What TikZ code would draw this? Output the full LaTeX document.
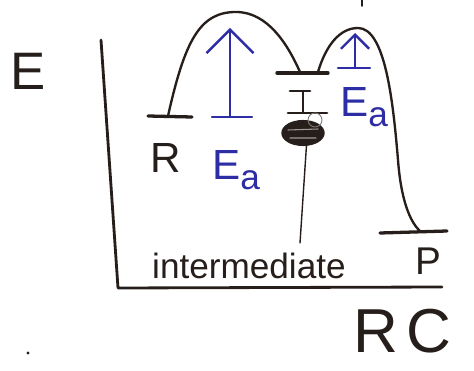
\documentclass[tikz,border=0pt]{standalone}
\usepackage{fontspec}
\setmainfont{Liberation Sans}
\usetikzlibrary{arrows.meta,shapes.geometric}
\definecolor{ink}{RGB}{38,30,26}
\definecolor{pen}{RGB}{45,45,165}
\newcommand{\Ea}{E\raisebox{-0.22em}{\fontsize{30}{30}\selectfont a}}

\begin{document}
\begin{tikzpicture}[
    x=0.03cm, y=-0.03cm,
    line cap=round, line join=round,
    axis/.style={draw=ink, line width=2.4pt},
    hill/.style={draw=ink, line width=2pt},
    level/.style={draw=ink, line width=2.8pt},
    barrier/.style={draw=pen, line width=2pt},
    txt/.style={text=ink, inner sep=0pt, anchor=base west,
                font=\fontsize{36}{36}\selectfont},
    bluetxt/.style={txt, text=pen},
    blob/.style={ellipse, draw=ink, fill=ink, line width=1.2pt,
                 minimum width=1.26cm, minimum height=0.74cm, inner sep=0pt},
  ]

  \useasboundingbox (0,0) rectangle (474,371);

  % Axes
  \coordinate (etop) at (101,40);
  \coordinate (origin) at (118,288);
  \coordinate (rcend) at (442,287);
  \draw[axis] (etop) -- (origin) -- (rcend);
  \node[txt, font=\fontsize{45}{45}\selectfont] (E) at (10,90) {E};
  \node[txt, font=\fontsize{53}{53}\selectfont] (RC) at (353,352)
    {R\hspace{7pt}C};

  % Levels
  \coordinate (rl) at (148,116);
  \coordinate (rr) at (192,117);
  \coordinate (il) at (277,73);
  \coordinate (ir) at (328,73);
  \coordinate (pl) at (380,233);
  \coordinate (pr) at (447,231);
  \draw[level] (rl) -- (rr);
  \draw[level] (il) -- (ir);
  \draw[level] (pl) -- (pr);
  \node[txt] (R) at (150,173) {R};
  \node[txt, font=\fontsize{33}{33}\selectfont] (P) at (415,275) {P};

  % Energy curve
  \draw[hill] (168,116) .. controls (185,40) and (200,12) .. (236,12)
    .. controls (268,12) and (288,45) .. (300,72);
  \draw[hill] (318,72) .. controls (326,45) and (340,28) .. (358,28)
    .. controls (385,28) and (393,100) .. (398,160)
    .. controls (401,200) and (410,222) .. (420,231);

  % Activation energies
  \coordinate (a1l) at (212,117);
  \coordinate (a1r) at (252,117);
  \coordinate (a1b) at (230,117);
  \coordinate (a1t) at (230,28);
  \draw[barrier] (a1l) -- (a1r);
  \draw[barrier, -{Straight Barb[length=20pt,width=40pt]}] (a1b) -- (a1t);
  \node[bluetxt] (Ea1) at (212,180) {\Ea};

  \coordinate (a2l) at (338,68);
  \coordinate (a2r) at (370,68);
  \coordinate (a2b) at (355,68);
  \coordinate (a2t) at (355,33);
  \draw[barrier] (a2l) -- (a2r);
  \draw[barrier, -{Straight Barb[length=12pt,width=24pt]}] (a2b) -- (a2t);
  \node[bluetxt] (Ea2) at (340,117) {\Ea};

  % Intermediate mark
  \coordinate (itl) at (290,91);
  \coordinate (itr) at (310,91);
  \coordinate (ibl) at (288,113);
  \coordinate (ibr) at (327,113);
  \draw[level, line width=2.4pt] (itl) -- (itr);
  \draw[level, line width=2.4pt] (ibl) -- (ibr);
  \draw[level, line width=2pt] (303,91) -- (303,113);
  \node[blob] (spot) at (303,133) {};
  \draw[ink!60, line width=0.8pt] (315,120) circle (7);
  \draw[white!55!ink, line width=0.9pt] (288,130) -- (318,129)
    (290,138) -- (316,138);
  \node[txt, font=\fontsize{30}{30}\selectfont] (inter) at (152,279)
    {intermediate};
  \coordinate (tail) at (300,243);
  \draw[hill, line width=1.2pt] (spot.-75) -- (tail);

  % Stray marks
  \draw[ink, line width=1.5pt] (362,0) -- (362,6);
  \fill[ink] (28,353) circle (1.6);

\end{tikzpicture}
\end{document}
